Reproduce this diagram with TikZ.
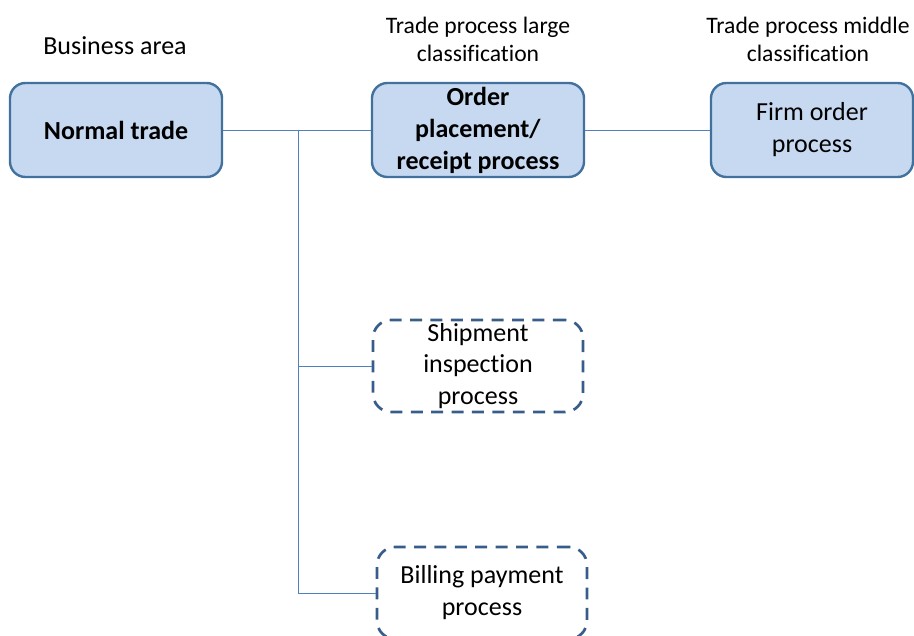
\documentclass[tikz,border=0pt]{standalone}
\usepackage{fontspec}
\setmainfont[Ligatures=NoCommon]{Carlito}
\usetikzlibrary{positioning}
\definecolor{boxfill}{HTML}{C6D9F1}
\definecolor{boxline}{HTML}{41719C}
\definecolor{dashline}{HTML}{385D8A}
\definecolor{linkline}{HTML}{4F81BD}
\tikzset{
  procbox/.style={draw=boxline, line width=1.7pt, fill=boxfill, rounded corners=11pt,
    minimum width=5.3cm, minimum height=2.35cm, align=center, inner sep=1pt,
    font=\fontsize{18.5}{22.7}\selectfont},
  planbox/.style={draw=dashline, line width=1.9pt, dash pattern=on 8.5pt off 6pt, rounded corners=13pt,
    minimum width=5.25cm, minimum height=2.3cm, align=center, inner sep=1pt,
    font=\fontsize{18.5}{22.7}\selectfont},
  headtxt/.style={align=center, font=\fontsize{16.8}{19.8}\selectfont},
  link/.style={draw=linkline, line width=0.7pt}
}

\begin{document}
\begin{tikzpicture}[x=0.025cm, y=-0.025cm]
\useasboundingbox (0,0) rectangle (914,636);
% column headings
\node[headtxt, font=\fontsize{18.5}{22.7}\selectfont] (areahead) at (115,46) {Business area};
\node[headtxt] (largehead) at (478,39) {Trade process large\\classification};
\node[headtxt] (middlehead) at (808,39) {Trade process middle\\classification};
% boxes
\node[procbox] (trade) at (116,130) {\textbf{Normal trade}};
\node[procbox] (order) at (478,130) {\textbf{Order}\\\textbf{placement/}\\\textbf{receipt process}};
\node[procbox, minimum width=5.05cm] (firm) at (812,130) {Firm order\\process};
\node[planbox] (ship) at (478,366) {Shipment\\inspection\\process};
\node[planbox] (bill) at (482,593) {Billing payment\\process};
% connectors
\coordinate (split) at (298,130);
\draw[link] (trade.east) -- (order.west);
\draw[link] (order.east) -- (firm.west);
\draw[link] (split) |- (ship.west);
\draw[link] (split) |- (bill.west);
\end{tikzpicture}
\end{document}
